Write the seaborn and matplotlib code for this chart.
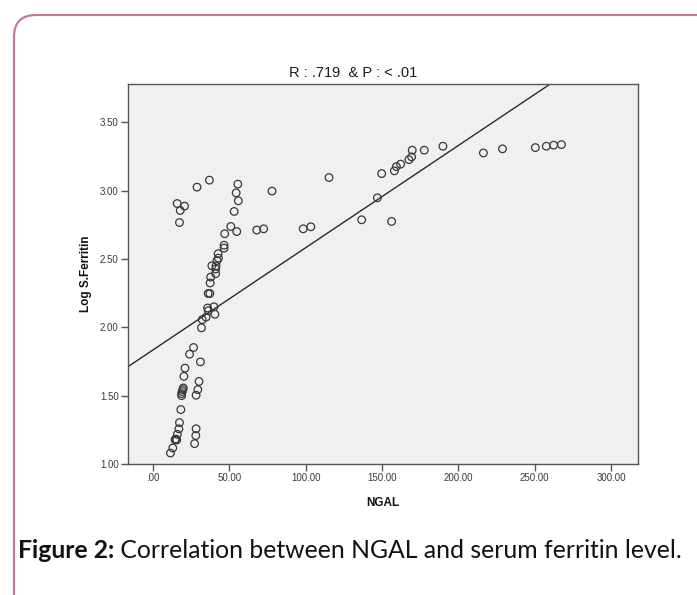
import numpy as np
import pandas as pd
import matplotlib
matplotlib.use("Agg")
import matplotlib.pyplot as plt
import seaborn as sns
from matplotlib.path import Path
from matplotlib.patches import PathPatch

# ---------------- data ----------------
ngal = [
    15.9, 17.9, 20.7, 17.4, 28.9, 37.0,
    55.6, 54.5, 55.9, 53.2, 51.0, 47.0, 54.9,
    68.0, 72.5, 78.0, 98.4, 103.4, 115.3,
    46.6, 46.6, 42.7, 42.9, 42.0, 38.6, 41.3, 41.1, 41.1, 37.8, 37.5,
    36.2, 37.3, 35.8, 36.3, 40.0, 40.6, 34.8, 32.3, 31.8,
    26.6, 24.0, 31.1, 21.0, 20.3, 19.9, 19.6, 19.2, 18.8, 18.8, 30.2,
    29.4, 28.3, 18.3, 17.4, 17.0, 16.0, 15.0, 15.6, 14.5, 13.0, 11.5,
    28.3, 28.1, 27.3,
    149.8, 158.1, 159.4, 162.2, 167.6, 169.4, 169.8, 177.7, 189.9,
    216.4, 228.9, 250.4, 257.6, 262.4, 267.5, 147.0, 136.7, 156.3,
]
log_ferritin = [
    2.905, 2.854, 2.886, 2.766, 3.025, 3.076,
    3.047, 2.983, 2.925, 2.847, 2.737, 2.684, 2.700,
    2.711, 2.720, 2.996, 2.720, 2.735, 3.095,
    2.600, 2.579, 2.538, 2.506, 2.488, 2.450, 2.448, 2.426, 2.392, 2.367,
    2.324, 2.247, 2.247, 2.141, 2.121, 2.150, 2.095, 2.074, 2.056, 1.996,
    1.852, 1.803, 1.747, 1.701, 1.641, 1.556, 1.544, 1.530, 1.515, 1.500,
    1.604, 1.544, 1.503, 1.398, 1.303, 1.257, 1.217, 1.182, 1.176, 1.178,
    1.117, 1.080, 1.258, 1.208, 1.149,
    3.124, 3.144, 3.175, 3.193, 3.226, 3.246, 3.295, 3.295, 3.324,
    3.275, 3.305, 3.314, 3.324, 3.332, 3.336, 2.947, 2.786, 2.774,
]
x_ticks = [0, 50, 100, 150, 200, 250, 300]
x_tick_labels = [".00", "50.00", "100.00", "150.00", "200.00", "250.00", "300.00"]
y_ticks = [1.0, 1.5, 2.0, 2.5, 3.0, 3.5]
y_tick_labels = ["1.00", "1.50", "2.00", "2.50", "3.00", "3.50"]
title_text = "R : .719  & P : < .01"
x_label = "NGAL"
y_label = "Log S.Ferritin"
caption_bold = "Figure 2:"
caption_rest = " Correlation between NGAL and serum ferritin level."

df = pd.DataFrame({"NGAL": ngal, "LogSFerritin": log_ferritin})

# ---------------- style ----------------
sns.set_theme(style="ticks")
plt.rcParams["font.family"] = ["Liberation Sans", "DejaVu Sans"]

W, H = 697, 595
fig = plt.figure(figsize=(W / 100, H / 100), dpi=100)
fig.patch.set_facecolor("white")

ax_l, ax_r, ax_t, ax_b = 127.7, 637.5, 84.3, 464.0
ax = fig.add_axes([ax_l / W, 1 - ax_b / H, (ax_r - ax_l) / W, (ax_b - ax_t) / H])
ax.set_facecolor("#F0F0F0")
xlim = (-16.5, 317.3)
ylim = (1.0, 3.777)
ax.set_xlim(*xlim)
ax.set_ylim(*ylim)

sns.regplot(
    data=df, x="NGAL", y="LogSFerritin", ax=ax, ci=None, truncate=False,
    color="#333333",
    scatter_kws=dict(s=30, facecolors="none", edgecolors="#383838",
                     linewidths=0.9, alpha=1.0, zorder=3),
    line_kws=dict(color="#2a2a2a", lw=1.0, zorder=2),
)
ax.set_xlim(*xlim)
ax.set_ylim(*ylim)

ax.set_xticks(x_ticks)
ax.set_xticklabels(x_tick_labels)
ax.set_yticks(y_ticks)
ax.set_yticklabels(y_tick_labels)
ax.tick_params(direction="out", length=5, width=1.0, color="#555555",
               labelsize=7, labelcolor="#3a3a3a", pad=1.5)
for sp in ax.spines.values():
    sp.set_visible(True)
    sp.set_color("#555555")
    sp.set_linewidth(1.0)

ax.set_xlabel(x_label, fontsize=8.5, fontweight="bold", color="#111111")
ax.set_ylabel(y_label, fontsize=8.5, fontweight="bold", color="#111111")
ax.xaxis.set_label_coords(0.5, -(497 - ax_b) / (ax_b - ax_t))
ax.yaxis.set_label_coords(-(ax_l - 92) / (ax_r - ax_l), 0.5)

fig.text(353 / W, 1 - 73 / H, title_text, ha="center", va="center",
         fontsize=10.5, color="#1a1a1a")

# ---------------- caption ----------------
renderer = fig.canvas.get_renderer()
cap_fam = ["Lato", "DejaVu Sans"]
cap_y = 1 - 551 / H
cap_x0 = 18
base = 12
t1 = fig.text(cap_x0 / W, cap_y, caption_bold, fontsize=base, fontweight="bold",
              family=cap_fam, ha="left", va="center", color="#111111")
t2 = fig.text(0, cap_y, caption_rest, fontsize=base, family=cap_fam,
              ha="left", va="center", color="#111111")
w_total = (t1.get_window_extent(renderer).width
           + t2.get_window_extent(renderer).width)
scale = (680 - cap_x0) / w_total
t1.set_fontsize(base * scale)
t2.set_fontsize(base * scale)
bb1 = t1.get_window_extent(renderer)
t2.set_x(bb1.x1 / W)

# ---------------- rounded border (top + left) ----------------
bx, by, r = 14.0, 15.0, 22.0
pts = [(bx, H + 5), (bx, by + r), (bx, by), (bx + r, by), (W + 5, by)]
codes = [Path.MOVETO, Path.LINETO, Path.CURVE3, Path.CURVE3, Path.LINETO]
verts = [(x / W, 1 - y / H) for x, y in pts]
fig.add_artist(PathPatch(Path(verts, codes), transform=fig.transFigure,
                         facecolor="none", edgecolor="#c17ba1", lw=1.6))

fig.savefig("out.png", dpi=100, facecolor="white")
